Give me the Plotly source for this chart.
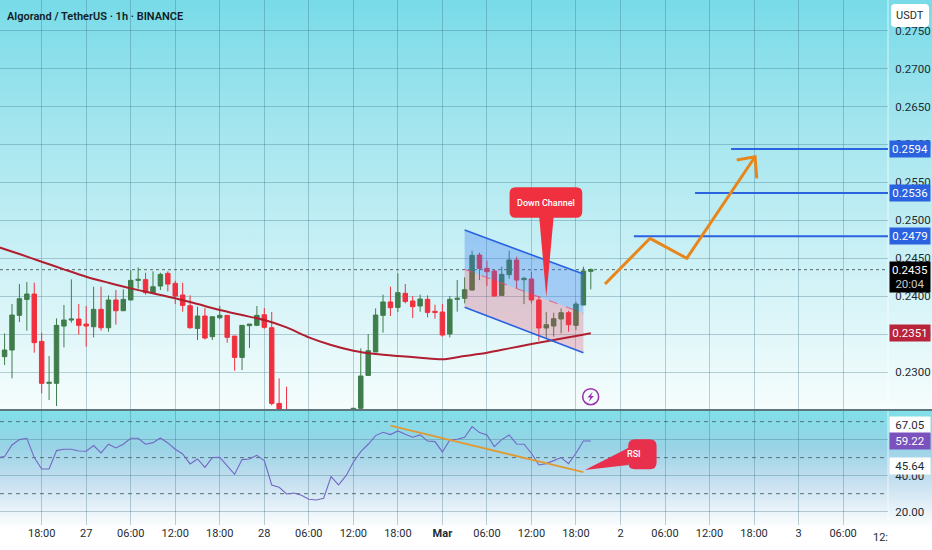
import base64
import pandas as pd
import plotly.graph_objects as go

# price candles, 1h, from 26 Feb 13:00 (those under the pane edge are guessed from the RSI)
times = pd.date_range("2025-02-26 13:00", periods=80, freq="h")
opens = [.23203, .23291, .23748, .23958, .24029, .23405, .22852, .22852, .23607, .23686,
         .23699, .23633, .23598, .23827, .23585, .23950, .23809, .23950, .24209, .24218,
         .24046, .24134, .24301, .24169, .24016, .23875, .23576, .23739, .23467, .23717,
         .23748, .23475, .23194, .23612, .23616, .23756, .23585, .22588, .22400,
         .22150, .22220, .22050, .21800, .21750, .21850, .22380, .22180,
         .22470, .22523, .22957, .23265, .23748, .23924, .23853, .24038, .23937, .23871,
         .23959, .23801, .23792, .23502, .23959, .23972, .24082, .24543, .24367, .24332,
         .24011, .24284, .24477, .24218, .24227, .23950, .23581, .23607, .23700, .23783,
         .23616, .23884, .24328]
highs = [.23510, .23897, .24160, .24187, .24178, .23519, .23212, .23708, .23884, .24222,
         .23897, .23871, .24125, .24125, .24011, .24081, .24090, .24345, .24380, .24310,
         .24327, .24310, .24327, .24204, .24178, .24011, .23862, .23844, .23730, .23871,
         .23748, .23475, .23620, .23633, .23871, .23844, .23792, .22918, .22808,
         .22380, .22320, .22150, .21920, .21950, .22450, .22480, .22490,
         .22531, .23313, .23502, .23840, .24020, .24126, .24301, .24161, .24003, .24020,
         .24011, .23888, .23897, .24003, .24213, .24249, .24600, .24574, .24468, .24345,
         .24389, .24600, .24521, .24257, .24323, .24003, .23792, .23783, .23840, .23809,
         .23928, .24389, .24367]
lows = [.23093, .22918, .23660, .23546, .23256, .22720, .22632, .22553, .23326, .23651,
        .23493, .23335, .23458, .23546, .23532, .23625, .23809, .23950, .24099, .24020,
        .24029, .24081, .24064, .23897, .23796, .23572, .23423, .23431, .23423, .23695,
        .23388, .23019, .23027, .23317, .23607, .23572, .22562, .22350, .22050,
        .22080, .21980, .21720, .21650, .21680, .21800, .22080, .22120,
        .22400, .22450, .22957, .23265, .23520, .23739, .23792, .23906, .23713, .23796,
        .23722, .23704, .23467, .23458, .23796, .23906, .24073, .24213, .24134, .23994,
        .24003, .24231, .24104, .23897, .23906, .23414, .23445, .23467, .23511, .23533,
        .23555, .23884, .24090]
closes = [.23291, .23752, .23967, .24029, .23388, .22852, .22865, .23616, .23686, .23699,
          .23616, .23607, .23827, .23585, .23950, .23809, .23958, .24209, .24222, .24046,
          .24125, .24288, .24160, .24002, .23879, .23585, .23739, .23449, .23730, .23748,
          .23458, .23194, .23616, .23633, .23748, .23590, .22588, .22400, .22150,
          .22220, .22050, .21800, .21750, .21850, .22380, .22180, .22450,
          .22523, .22949, .23282, .23752, .23924, .23849, .24047, .23932, .23862, .23963,
          .23787, .23787, .23489, .23959, .23972, .24086, .24538, .24367, .24323, .24003,
          .24288, .24477, .24213, .24235, .23950, .23581, .23625, .23704, .23783, .23625,
          .23897, .24332, .24350]

# moving average
ema_times = ["2025-02-26 12:00", "2025-02-26 15:00", "2025-02-26 18:00", "2025-02-26 21:00",
             "2025-02-27 00:00", "2025-02-27 03:00", "2025-02-27 06:00", "2025-02-27 09:00",
             "2025-02-27 12:00", "2025-02-27 15:00", "2025-02-27 18:00", "2025-02-27 21:00",
             "2025-02-28 00:00", "2025-02-28 03:00", "2025-02-28 06:00", "2025-02-28 09:00",
             "2025-02-28 12:00", "2025-02-28 15:00", "2025-02-28 18:00", "2025-02-28 21:00",
             "2025-03-01 00:00", "2025-03-01 03:00", "2025-03-01 06:00", "2025-03-01 09:00",
             "2025-03-01 12:00", "2025-03-01 15:00", "2025-03-01 18:00", "2025-03-01 20:00"]
ema_values = [.24652, .24556, .24455, .24354, .24257, .24178, .24103, .24038, .23972, .23897,
              .23818, .23752, .23686, .23590, .23458, .23357, .23282, .23238, .23212, .23190,
              .23168, .23212, .23256, .23313, .23370, .23423, .23476, .23511]

# RSI, one value per hour from 26 Feb 12:00
rsi_times = pd.date_range("2025-02-26 12:00", periods=81, freq="h")
rsi_values = [50.02, 50.58, 57.06, 60.02, 60.76, 50.02, 43.72, 43.72, 53.91, 54.65,
              54.65, 53.72, 53.54, 56.69, 52.61, 57.43, 55.39, 57.43, 60.76, 60.76,
              57.43, 58.35, 60.95, 58.17, 54.65, 52.06, 46.50, 49.28, 44.65, 50.02,
              50.21, 45.39, 40.76, 48.91, 49.28, 51.32, 48.35, 34.84, 33.54, 29.84,
              30.39, 29.09, 26.87, 26.50, 27.43, 39.46, 34.84, 39.84, 47.43, 53.35,
              57.43, 62.24, 64.09, 62.80, 64.84, 62.98, 61.32, 62.61, 59.28, 58.91,
              53.17, 59.84, 60.21, 61.32, 67.24, 63.91, 62.61, 56.13, 60.02, 62.61,
              57.61, 57.43, 52.43, 45.95, 46.69, 48.35, 50.02, 46.69, 52.43, 59.28, 59.22]
rsi_trend_times = ["2025-02-28 17:00", "2025-03-01 19:00"]
rsi_trend_values = [67.8, 41.9]

# drawings on the price pane
channel_times = ["2025-03-01 03:00", "2025-03-01 19:00"]
channel_top = [.24872, .24292]
channel_mid = [.24354, .23775]
channel_bottom = [.23854, .23256]
target_prices = [.2479, .2536, .2594]
target_starts = ["2025-03-02 01:48", "2025-03-02 10:03", "2025-03-02 14:54"]
target_end = "2025-03-03 12:03"
arrow_times = ["2025-03-01 21:55", "2025-03-02 03:59", "2025-03-02 08:56", "2025-03-02 18:08"]
arrow_prices = [.24161, .24763, .24499, .25838]
arrow_head_times = ["2025-03-02 15:40", "2025-03-02 18:08", "2025-03-02 18:22"]
arrow_head_prices = [.25794, .25838, .25553]
last_price = .2435

tick_times = pd.date_range("2025-02-26 18:00", "2025-03-03 12:00", freq="6h")
tick_labels = ["18:00", "27", "06:00", "12:00", "18:00", "28", "06:00", "12:00", "18:00", "<b>Mar</b>",
               "06:00", "12:00", "18:00", "2", "06:00", "12:00", "18:00", "3", "06:00", ""]

W, H = 932, 550
PANE_R = 888
FONT = "Roboto"
GREEN = "#3f7d4c"
RED = "#f0303f"
BLUE = "#2a62e0"
ORANGE = "#e8861a"
TAG_RED = "#b8243a"
PURPLE = "#7b52bd"

# background gradients of both panes, the whole width
svg = f"""<svg xmlns="http://www.w3.org/2000/svg" width="{W}" height="{H}" preserveAspectRatio="none">
<defs>
<linearGradient id="a" x1="0" y1="0" x2="0" y2="1">
<stop offset="0" stop-color="#78dbe8"/><stop offset="0.3" stop-color="#a2e5ee"/>
<stop offset="0.65" stop-color="#cdf1f6"/><stop offset="1" stop-color="#f6fdfd"/>
</linearGradient>
<linearGradient id="b" x1="0" y1="0" x2="0" y2="1">
<stop offset="0" stop-color="#80dfe8"/><stop offset="0.3" stop-color="#98d3e6"/>
<stop offset="0.6" stop-color="#c6e0f0"/><stop offset="1" stop-color="#ffffff"/>
</linearGradient>
</defs>
<rect width="{W}" height="{H}" fill="#ffffff"/>
<rect width="{W}" height="409" fill="url(#a)"/>
<rect y="411" width="{W}" height="118" fill="url(#b)"/>
</svg>"""
bg_src = "data:image/svg+xml;base64," + base64.b64encode(svg.encode()).decode()

fig = go.Figure()

# channel fills go under the candles
fig.add_trace(go.Scatter(x=channel_times + channel_times[::-1], y=channel_top + channel_mid[::-1],
                         fill="toself", mode="none", fillcolor="rgba(60,120,240,0.32)"))
fig.add_trace(go.Scatter(x=channel_times + channel_times[::-1], y=channel_mid + channel_bottom[::-1],
                         fill="toself", mode="none", fillcolor="rgba(240,60,90,0.25)"))
fig.add_trace(go.Scatter(x=channel_times, y=channel_mid, mode="lines",
                         line=dict(color="rgba(235,70,100,0.8)", width=1, dash="dash")))

fig.add_trace(go.Candlestick(x=times, open=opens, high=highs, low=lows, close=closes,
                             increasing=dict(line=dict(color=GREEN, width=1), fillcolor=GREEN),
                             decreasing=dict(line=dict(color=RED, width=1), fillcolor=RED)))
fig.add_trace(go.Scatter(x=ema_times, y=ema_values, mode="lines",
                         line=dict(color="#b01e30", width=2, shape="spline", smoothing=0.7)))

for top_or_bottom in [channel_top, channel_bottom]:
    fig.add_trace(go.Scatter(x=channel_times, y=top_or_bottom, mode="lines", line=dict(color=BLUE, width=1.6)))
for price, start in zip(target_prices, target_starts):
    fig.add_trace(go.Scatter(x=[start, target_end], y=[price, price], mode="lines", line=dict(color=BLUE, width=1.8)))
fig.add_trace(go.Scatter(x=arrow_times, y=arrow_prices, mode="lines", line=dict(color=ORANGE, width=3)))
fig.add_trace(go.Scatter(x=arrow_head_times, y=arrow_head_prices, mode="lines", line=dict(color=ORANGE, width=3)))

fig.add_trace(go.Scatter(x=rsi_times, y=rsi_values, mode="lines", yaxis="y2", line=dict(color="#7468c4", width=1.1)))
fig.add_trace(go.Scatter(x=rsi_trend_times, y=rsi_trend_values, mode="lines", yaxis="y2",
                         line=dict(color="#e09a35", width=1.8)))


def tag(text, y, bg, color="white", yref="y", height=14):
    # value label in the right hand column
    return dict(text=text, x=(PANE_R + 1) / W, xref="paper", xanchor="left", y=y, yref=yref, yanchor="middle",
                width=38, height=height, bgcolor=bg, showarrow=False, align="center",
                borderpad=1, font=dict(family=FONT, size=11.5, color=color))


def paper_y(py):
    return 1 - py / H


annotations = [
    tag("0.2594", .2594, BLUE), tag("0.2536", .2536, BLUE), tag("0.2479", .2479, BLUE),
    tag("0.2351", .2351, TAG_RED),
    tag("0.2435<br><span style='color:#c8c8c8'>20:04</span>", paper_y(277), "#000000", yref="paper", height=28),
    tag("67.05", paper_y(425.4), "#ffffff", "#1d2b33", yref="paper"),
    tag("59.22", 59.22, PURPLE, yref="y2"),
    tag("45.64", 45.64, "#ffffff", "#1d2b33", yref="y2"),
    dict(text="USDT", x=910 / W, xref="paper", xanchor="center", y=paper_y(15.5), yref="paper", yanchor="middle",
         showarrow=False, font=dict(family=FONT, size=11, color="#1d2b33")),
    dict(text="12:", x=PANE_R / W, xref="paper", xanchor="right", y=paper_y(537), yref="paper", yanchor="middle",
         showarrow=False, font=dict(family=FONT, size=11, color="#1d2b33"), xshift=2),
    dict(text="Down Channel", x="2025-03-01 14:00", xref="x", y=paper_y(202.5), yref="paper", yanchor="middle",
         showarrow=False, font=dict(family=FONT, size=9, color="white", weight=500)),
    dict(text="RSI", x=642.5 / W, xref="paper", y=paper_y(454), yref="paper", yanchor="middle",
         showarrow=False, font=dict(family=FONT, size=9, color="white", weight=500)),
]

down_callout = ("M 0 0 L 7.3 79.3 L 30 79.3 Q 36 79.3 36 85.3 L 36 103.7 Q 36 109.7 30 109.7 "
                "L -30.7 109.7 Q -36.7 109.7 -36.7 103.7 L -36.7 85.3 Q -36.7 79.3 -30.7 79.3 L -7 79.3 Z")
rsi_callout = ("M 0 0 L 43.3 22 L 43.3 24 Q 43.3 30.7 50 30.7 L 65 30.7 Q 71.7 30.7 71.7 24 "
               "L 71.7 7.4 Q 71.7 0.7 65 0.7 L 50 0.7 Q 43.3 0.7 43.3 7.4 L 43.3 5 Z")
usdt_box = ("M -15 -11.5 L 15 -11.5 Q 19 -11.5 19 -7.5 L 19 7.5 Q 19 11.5 15 11.5 L -15 11.5 "
            "Q -19 11.5 -19 7.5 L -19 -7.5 Q -19 -11.5 -15 -11.5 Z")
bolt = "M 2 5 L -3.2 -0.8 L -0.3 -0.8 L -2 -5 L 3.2 0.8 L 0.3 0.8 Z"


def pixel_shape(path, xanchor, yanchor, xref="x", yref="y", fill=RED):
    return dict(type="path", path=path, xref=xref, yref=yref, xsizemode="pixel", ysizemode="pixel",
                xanchor=xanchor, yanchor=yanchor, fillcolor=fill, line=dict(width=0), layer="above")


shapes = [
    # dotted last price line and the RSI bands sit behind everything
    dict(type="line", xref="x domain", x0=0, x1=1, yref="y", y0=last_price, y1=last_price, layer="below",
         line=dict(color="#55686f", width=1, dash="dot")),
    pixel_shape(down_callout, "2025-03-01 14:00", .23989),
    pixel_shape(rsi_callout, "2025-03-01 19:12", 43.2, yref="y2", fill="#e8304c"),
    pixel_shape(usdt_box, 910 / W, paper_y(15.5), xref="paper", yref="paper", fill="#ffffff"),
    dict(type="circle", xref="x", yref="y", xsizemode="pixel", ysizemode="pixel",
         xanchor="2025-03-01 19:59", yanchor=.22676, x0=-8, x1=8, y0=-8, y1=8,
         line=dict(color="#9a2fb0", width=1.6), layer="above"),
    pixel_shape(bolt, "2025-03-01 19:59", .22676, fill="#9a2fb0"),
    # separator between the panes
    dict(type="line", xref="paper", x0=0, x1=1, yref="paper", y0=paper_y(410), y1=paper_y(410), layer="above",
         line=dict(color="#5d7680", width=2)),
    dict(type="line", xref="paper", x0=PANE_R / W, x1=PANE_R / W, yref="paper", y0=paper_y(0), y1=paper_y(526),
         layer="below", line=dict(color="rgba(255,255,255,0.7)", width=1)),
]
for band in [70, 50, 30]:
    shapes.append(dict(type="line", xref="x domain", x0=0, x1=1, yref="y2", y0=band, y1=band, layer="below",
                       line=dict(color="#55707c", width=1, dash="4px,4px")))

GRID = "rgba(45,100,120,0.3)"
fig.update_layout(
    width=W, height=H, margin=dict(l=0, r=0, t=0, b=0), showlegend=False,
    paper_bgcolor="white", plot_bgcolor="rgba(0,0,0,0)",
    boxgap=0.25, boxgroupgap=0.2,
    title=dict(text="Algorand / TetherUS · 1h · BINANCE", x=7 / W, xanchor="left", y=paper_y(16), yanchor="middle",
               font=dict(family=FONT, size=11, color="#111c24", weight=600)),
    xaxis=dict(domain=[0, PANE_R / W], range=["2025-02-26 12:23", "2025-03-03 12:03"], anchor="y2",
               tickvals=tick_times, ticktext=tick_labels, tickangle=0, rangeslider=dict(visible=False),
               showgrid=True, gridcolor=GRID, gridwidth=1, ticks="", zeroline=False, showline=False,
               tickfont=dict(family=FONT, size=11, color="#1d2b33")),
    yaxis=dict(domain=[paper_y(409), 1], range=[.22514, .27903], side="right", anchor="x",
               tick0=.23, dtick=.005, tickformat=".4f", showgrid=True, gridcolor=GRID, zeroline=False,
               ticks="outside", ticklen=4, tickcolor="rgba(0,0,0,0)",
               tickfont=dict(family=FONT, size=11.5, color="#1d2b33")),
    yaxis2=dict(domain=[paper_y(525), paper_y(411)], range=[12.6, 75.9], side="right", anchor="x",
                tickvals=[20, 40, 60], tickformat=".2f", showgrid=True, gridcolor=GRID, zeroline=False,
                ticks="outside", ticklen=4, tickcolor="rgba(0,0,0,0)",
                tickfont=dict(family=FONT, size=11.5, color="#1d2b33")),
    images=[dict(source=bg_src, xref="paper", yref="paper", x=0, y=1, sizex=1, sizey=1,
                 sizing="stretch", xanchor="left", yanchor="top", layer="below")],
    shapes=shapes, annotations=annotations,
)

# the page body margin would push the chart off the 932 wide window
fig.write_html("out.html", config={"displayModeBar": False},
               post_script="document.body.style.margin='0';document.body.style.overflow='hidden';")
